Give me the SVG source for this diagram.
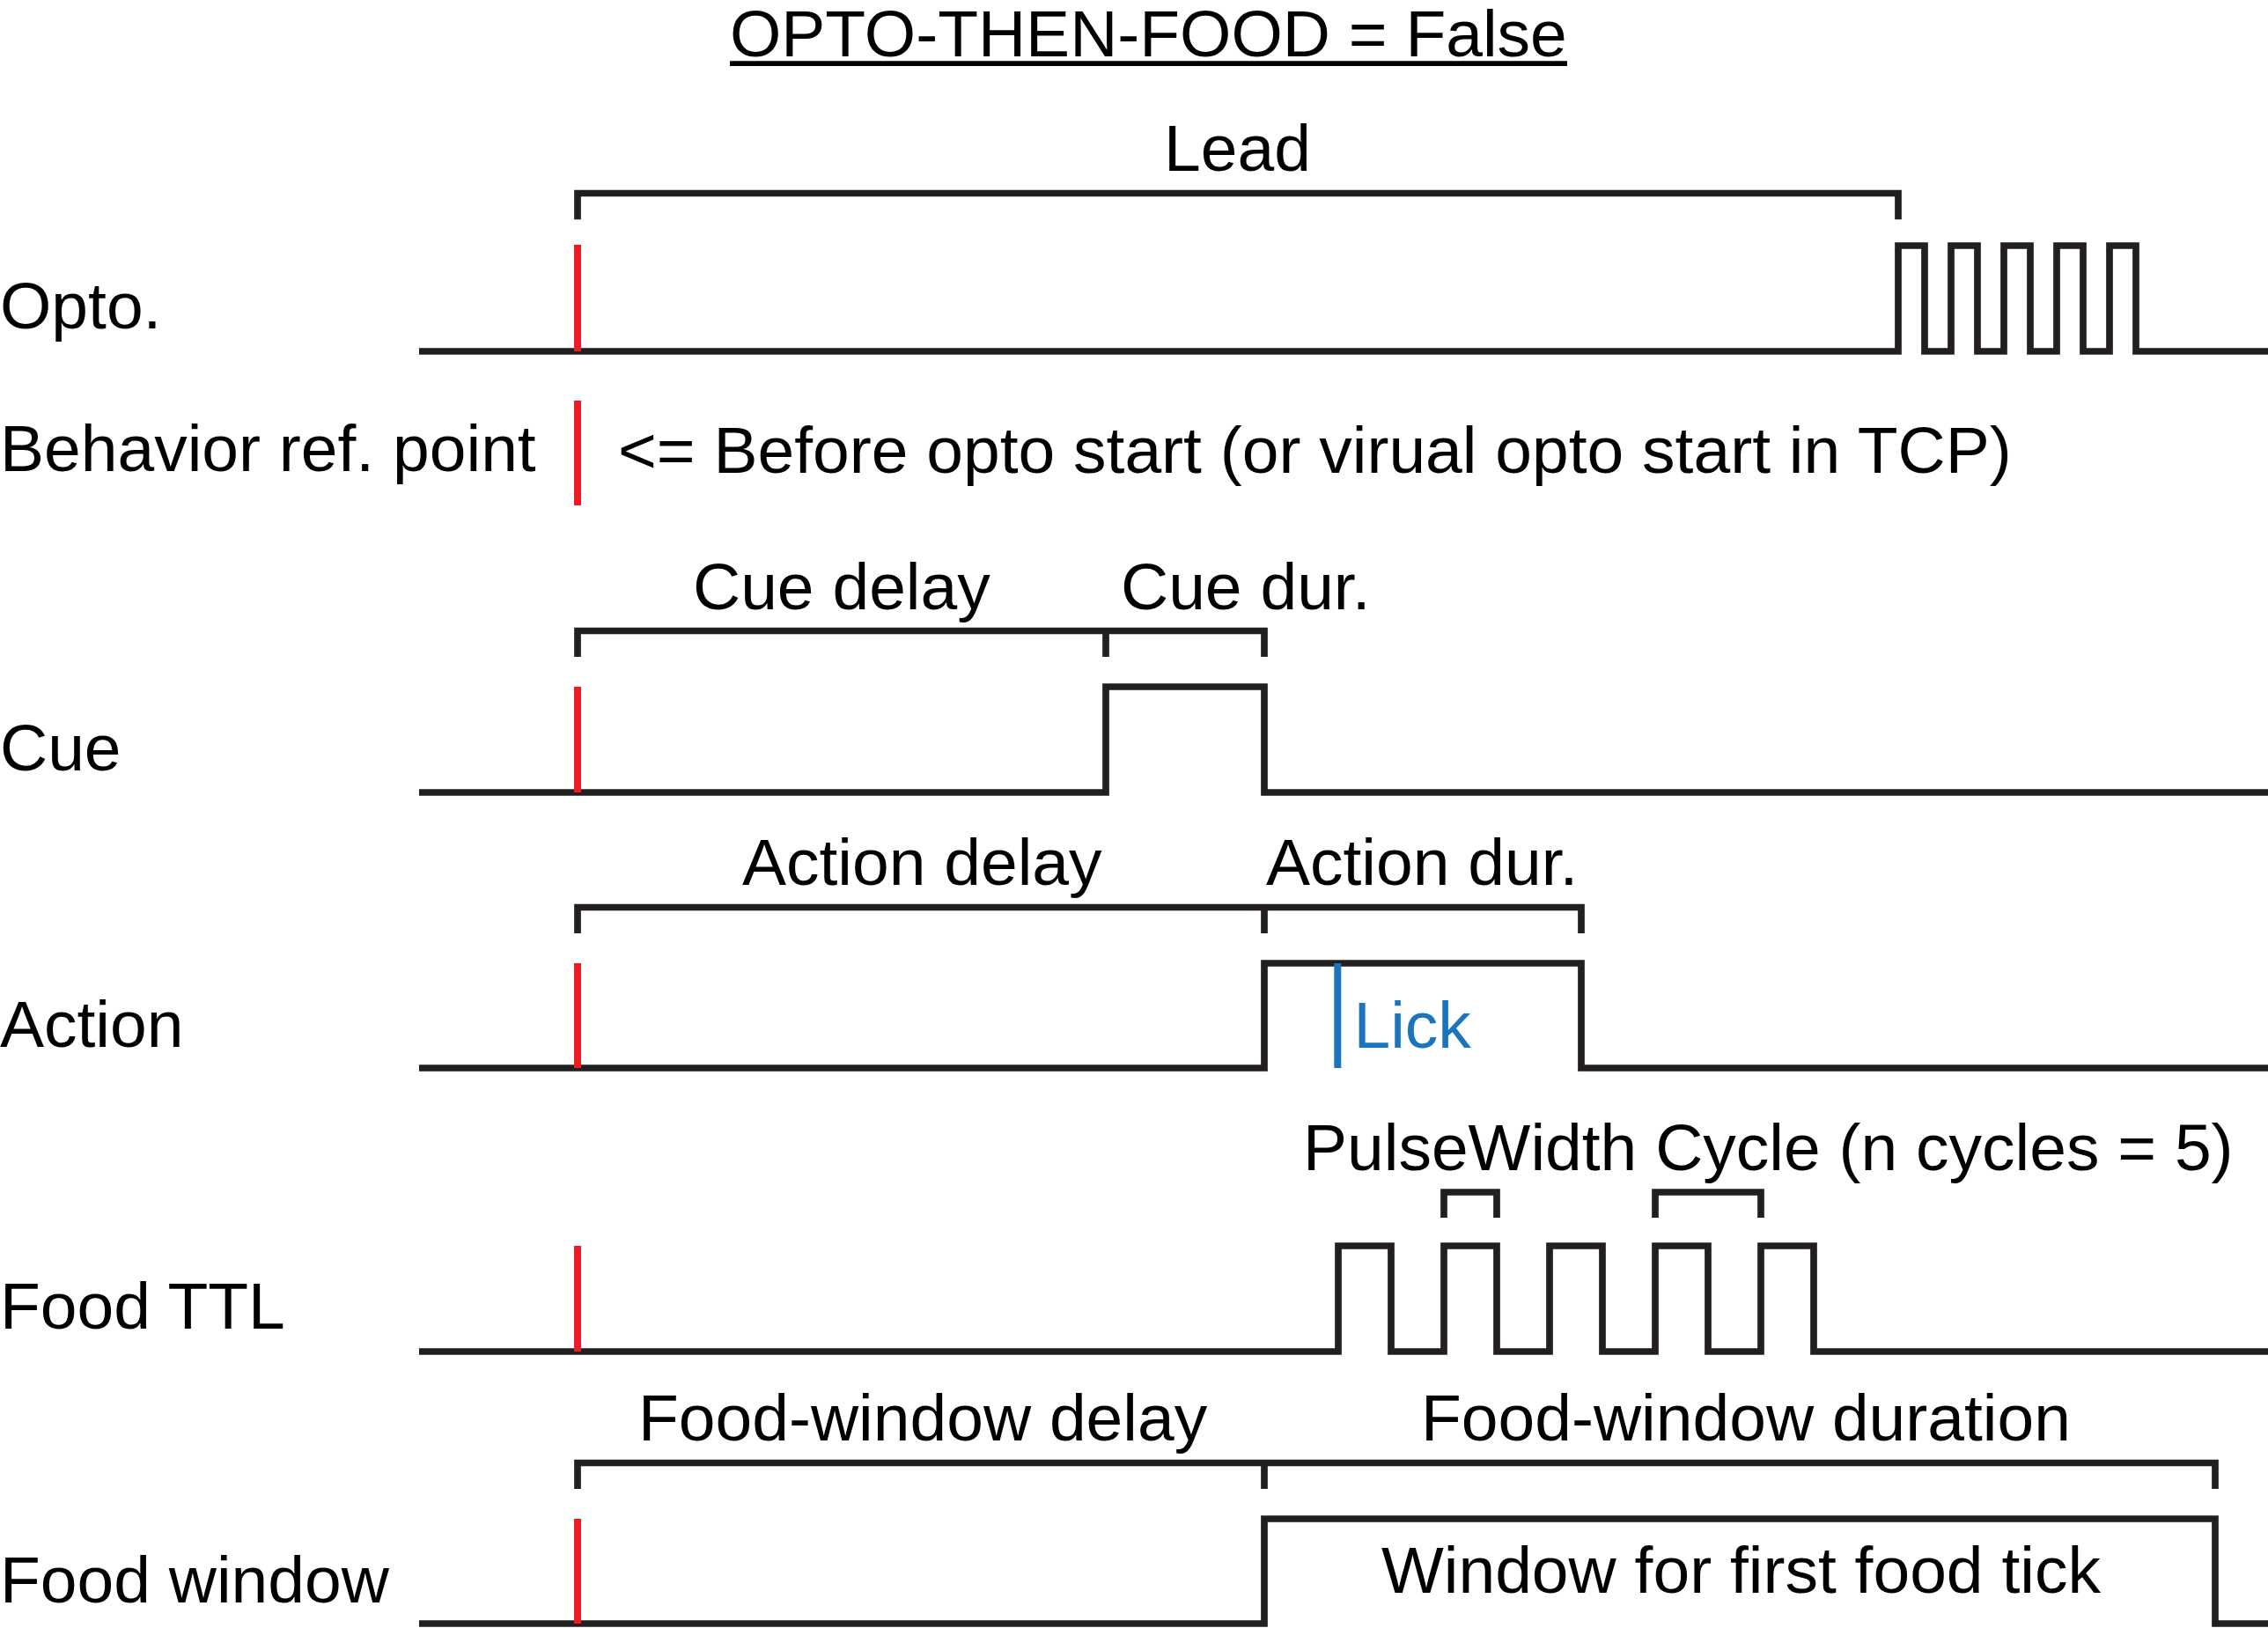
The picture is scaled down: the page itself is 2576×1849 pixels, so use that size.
<svg xmlns="http://www.w3.org/2000/svg" width="2576" height="1849" viewBox="0 0 2576 1849">
<style>
.sig{fill:none;stroke:#231f20;stroke-width:7.7;stroke-linejoin:miter;stroke-linecap:butt}
.brk{fill:none;stroke:#231f20;stroke-width:7.7;stroke-linejoin:miter;stroke-linecap:butt}
.ref{fill:none;stroke:#ed1c24;stroke-width:8}
.lick{fill:none;stroke:#1c75bc;stroke-width:8}
text{font-family:"Liberation Sans",Arial,Helvetica,sans-serif;font-size:75px;fill:#000}
.blue{fill:#1c75bc}
</style>
<rect width="2576" height="1849" fill="#fff"/>
<g id="title">
<text x="829" y="64">OPTO-THEN-FOOD = False</text>
<line x1="829" y1="72.2" x2="1780" y2="72.2" stroke="#000" stroke-width="5.7"/>
</g>
<g id="row-opto">
<text x="0" y="373">Opto.</text>
<path class="brk" d="M656,249.3V219.5H2156V249.3"/>
<text x="1322" y="194">Lead</text>
<path class="sig" d="M476,399H2156V279H2186V399H2216V279H2246V399H2276V279H2306V399H2336V279H2366V399H2396V279H2426V399H2576"/>
<path class="ref" d="M656,278V399"/>
</g>
<g id="row-behavior">
<text x="0" y="535">Behavior ref. point</text>
<path class="ref" d="M656,455V574"/>
<text x="702" y="537">&lt;= Before opto start (or virual opto start in TCP)</text>
</g>
<g id="row-cue">
<text x="0" y="875">Cue</text>
<text x="787" y="692">Cue delay</text>
<text x="1273" y="692">Cue dur.</text>
<path class="brk" d="M656,746V716.5H1436V746M1256,716.5V746"/>
<path class="sig" d="M476,900H1256V780H1436V900H2576"/>
<path class="ref" d="M656,780V900"/>
</g>
<g id="row-action">
<text x="0" y="1189">Action</text>
<text x="843" y="1005">Action delay</text>
<text x="1438" y="1005">Action dur.</text>
<path class="brk" d="M656,1060V1030.5H1796V1060M1436,1030.5V1060"/>
<path class="sig" d="M476,1213H1436V1094H1796V1213H2576"/>
<path class="ref" d="M656,1094V1213"/>
<path class="lick" d="M1519.3,1094V1213"/>
<text class="blue" x="1537.5" y="1190">Lick</text>
</g>
<g id="row-foodttl">
<text x="0" y="1509">Food TTL</text>
<text x="1480" y="1329">PulseWidth Cycle (n cycles = 5)</text>
<path class="brk" d="M1640,1383V1354H1700V1383M1880,1383V1354H2000V1383"/>
<path class="sig" d="M476,1535H1520V1415H1580V1535H1640V1415H1700V1535H1760V1415H1820V1535H1880V1415H1940V1535H2000V1415H2060V1535H2576"/>
<path class="ref" d="M656,1415V1535"/>
</g>
<g id="row-foodwindow">
<text x="0" y="1820">Food window</text>
<text x="725" y="1636">Food-window delay</text>
<text x="1614" y="1636">Food-window duration</text>
<path class="brk" d="M656,1691V1661.5H2516V1691M1436,1661.5V1691"/>
<path class="sig" d="M476,1844H1436V1725H2516V1844H2576"/>
<path class="ref" d="M656,1725V1844"/>
<text x="1569" y="1809">Window for first food tick</text>
</g>
</svg>
